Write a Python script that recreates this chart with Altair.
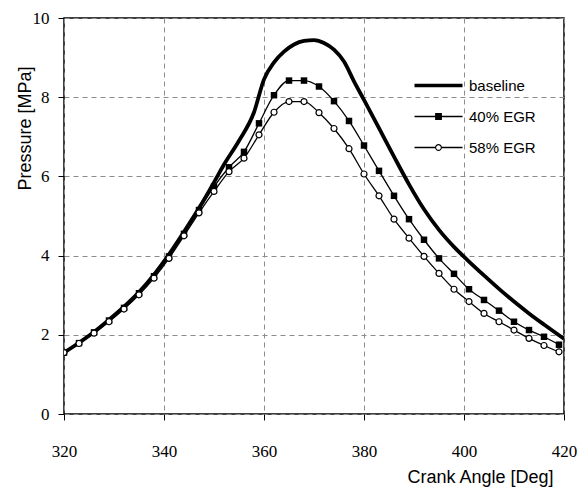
import altair as alt
import pandas as pd

# ---- data ----
angle_egr = [320, 323, 326, 329, 332, 335, 338, 341, 344, 347, 350, 353, 356, 359,
             362, 365, 368, 371, 374, 377, 380, 383, 386, 389, 392, 395, 398, 401,
             404, 407, 410, 413, 416, 419]
p_egr40 = [1.55, 1.79, 2.06, 2.36, 2.68, 3.05, 3.48, 3.98, 4.55, 5.15, 5.74, 6.23, 6.62, 7.34,
           8.05, 8.42, 8.42, 8.27, 7.90, 7.40, 6.78, 6.14, 5.51, 4.92, 4.40, 3.93, 3.54, 3.15,
           2.88, 2.61, 2.33, 2.12, 1.95, 1.75]
p_egr58 = [1.55, 1.78, 2.04, 2.33, 2.65, 3.01, 3.43, 3.93, 4.50, 5.08, 5.62, 6.12, 6.46, 7.05,
           7.62, 7.89, 7.89, 7.61, 7.21, 6.70, 6.06, 5.51, 4.92, 4.44, 3.98, 3.55, 3.15, 2.84,
           2.54, 2.33, 2.12, 1.91, 1.73, 1.57]
angle_base = [320, 323, 326, 329, 332, 335, 338, 341, 344, 347, 350, 352, 355, 358, 360,
              362, 364, 366, 368, 370, 372, 374, 376, 378, 380, 383, 386, 389, 392, 395,
              398, 401, 404, 407, 410, 413, 416, 420]
p_base = [1.55, 1.80, 2.07, 2.38, 2.71, 3.08, 3.52, 4.03, 4.60, 5.20, 5.85, 6.30, 6.90, 7.62, 8.45,
          8.88, 9.15, 9.33, 9.42, 9.44, 9.37, 9.20, 8.90, 8.40, 7.93, 7.22, 6.50, 5.80, 5.17, 4.65,
          4.22, 3.85, 3.50, 3.16, 2.84, 2.54, 2.26, 1.90]
series_names = ["baseline", "40% EGR", "58% EGR"]
x_ticks = [320, 340, 360, 380, 400, 420]
y_ticks = [0, 2, 4, 6, 8, 10]

base_df = pd.DataFrame({"angle": angle_base, "p": p_base, "series": series_names[0]})
e40_df = pd.DataFrame({"angle": angle_egr, "p": p_egr40, "series": series_names[1]})
e58_df = pd.DataFrame({"angle": angle_egr, "p": p_egr58, "series": series_names[2]})
legend_df = pd.DataFrame({"series": series_names})

TICK_FONT = "Liberation Serif, Times New Roman, serif"
TITLE_FONT = "Liberation Sans"

x_enc = alt.X("angle:Q", scale=alt.Scale(domain=[320, 420], nice=False, zero=False),
              axis=alt.Axis(values=x_ticks, title="Crank Angle [Deg]", labelPadding=23,
                            labelFlush=False,
                            labelFont=TICK_FONT, labelFontSize=17, labelColor="black",
                            ticks=True, tickSize=6, tickColor="black",
                            titleFont=TITLE_FONT, titleFontSize=18, titleFontWeight="normal",
                            titleColor="black",
                            titleX=489, titleY=68, titleAlign="right", titleBaseline="alphabetic"))
y_enc = alt.Y("p:Q", scale=alt.Scale(domain=[0, 10], nice=False),
              axis=alt.Axis(values=y_ticks, title="Pressure  [MPa]", labelPadding=9,
                            labelFlush=False,
                            labelFont=TICK_FONT, labelFontSize=17, labelColor="black",
                            ticks=True, tickSize=6, tickColor="black",
                            titleFont=TITLE_FONT, titleFontSize=18, titleFontWeight="normal",
                            titleColor="black",
                            titleX=-39, titleY=110, titleAngle=-90, titleAlign="center",
                            titleBaseline="middle"))

base_line = alt.Chart(base_df).mark_line(color="black", strokeWidth=3.8, interpolate="monotone",
                                         clip=True).encode(x=x_enc, y=y_enc)
l40 = alt.Chart(e40_df).mark_line(color="black", strokeWidth=1.3, interpolate="monotone",
                                  clip=True).encode(x="angle:Q", y="p:Q")
l58 = alt.Chart(e58_df).mark_line(color="black", strokeWidth=1.3, interpolate="monotone",
                                  clip=True).encode(x="angle:Q", y="p:Q")
p40 = alt.Chart(e40_df).mark_point(shape="square", filled=True, color="black", size=42,
                                   opacity=1, clip=True).encode(x="angle:Q", y="p:Q")
p58 = alt.Chart(e58_df).mark_point(shape="circle", fill="white", stroke="black", strokeWidth=1.2,
                                   size=36, opacity=1, filled=False, clip=True).encode(x="angle:Q", y="p:Q")

# legend symbols drawn purely as filled shapes (unit = 4 px)
legend_paths = [
    "M-6,-0.45H6V0.45H-6Z",
    "M-6,-0.16H6V0.16H-6ZM-0.85,-0.85H0.85V0.85H-0.85Z",
    "M-6,-0.16H-0.8V0.16H-6ZM0.8,-0.16H6V0.16H0.8Z"
    "M-0.85,0A0.85,0.85,0,1,1,0.85,0A0.85,0.85,0,1,1,-0.85,0Z"
    "M-0.58,0A0.58,0.58,0,1,0,0.58,0A0.58,0.58,0,1,0,-0.58,0Z",
]
leg = alt.Legend(title=None, orient="none", legendX=367, legendY=60, symbolSize=64,
                 labelOffset=23, rowPadding=15, labelFont=TITLE_FONT, labelFontSize=15,
                 labelColor="black", symbolFillColor="black", symbolStrokeWidth=0,
                 symbolOpacity=1, padding=0)
legend_layer = alt.Chart(legend_df).mark_point(filled=True, color="black", opacity=1).encode(
    shape=alt.Shape("series:N", scale=alt.Scale(domain=series_names, range=legend_paths), legend=leg),
).transform_filter("false")

chart = alt.layer(base_line, l40, l58, p40, p58, legend_layer).properties(
    width=500, height=396,
    background="white",
    autosize=alt.AutoSizeParams(type="none"),
    padding={"left": 64, "top": 18, "right": 20, "bottom": 75},
).configure_view(stroke="black", strokeWidth=1.5).configure_axis(
    domain=False, ticks=True, tickColor="black", tickSize=6, tickWidth=1,
    labelFont=TICK_FONT, labelFontSize=17, labelColor="black",
    titleFont=TITLE_FONT, titleFontWeight="normal", titleColor="black",
    grid=True, gridColor="#8c8c8c", gridDash=[5, 4], gridWidth=1,
)

chart.save("out.html", embed_options={"renderer": "svg", "actions": False})
